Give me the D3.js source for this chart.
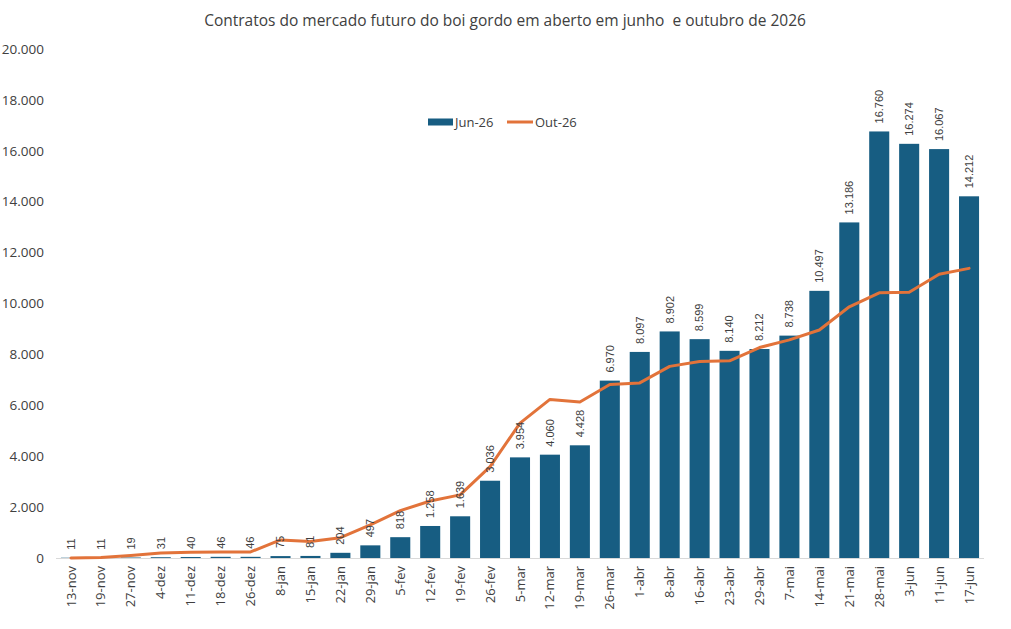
<!DOCTYPE html>
<html><head><meta charset="utf-8">
<script src="https://cdn.jsdelivr.net/npm/d3@7"></script>
<style>
html,body{margin:0;padding:0;background:#fff;}
svg{display:block;}
</style></head>
<body>
<svg id="chart" width="1011" height="629"></svg>
<script>
const categories = ["13-nov","19-nov","27-nov","4-dez","11-dez","18-dez","26-dez","8-jan","15-jan","22-jan","29-jan","5-fev","12-fev","19-fev","26-fev","5-mar","12-mar","19-mar","26-mar","1-abr","8-abr","16-abr","23-abr","29-abr","7-mai","14-mai","21-mai","28-mai","3-jun","11-jun","17-jun"];
const jun26 = [11,11,19,31,40,46,46,75,81,204,497,818,1258,1639,3036,3954,4060,4428,6970,8097,8902,8599,8140,8212,8738,10497,13186,16760,16274,16067,14212];
const out26 = [0,20,100,200,230,240,240,710,650,800,1300,1860,2240,2480,3590,5300,6230,6130,6820,6880,7530,7720,7750,8270,8570,8960,9870,10420,10440,11150,11380];
const yTicks = [0,2000,4000,6000,8000,10000,12000,14000,16000,18000,20000];
const seriesNames = ["Jun-26","Out-26"];
const title = "Contratos do mercado futuro do boi gordo em aberto em junho  e outubro de 2026";

const barColor = "#175d82", lineColor = "#e2733a", textColor = "#404040";
const svg = d3.select("#chart");
const x = d3.scaleBand().domain(categories).range([56,984]).paddingInner(0.33).paddingOuter(0.165);
const y = d3.scaleLinear().domain([0,20000]).range([558,49]);
const fmt = v => d3.format(",")(v).replace(/,/g,".");

// title
svg.append("text").attr("x",505).attr("y",26).attr("text-anchor","middle")
  .attr("font-family","'Open Sans', sans-serif").attr("font-size",15.5).attr("fill",textColor)
  .style("white-space","pre").text(title);

// y axis labels
svg.append("g").selectAll("text").data(yTicks).join("text")
  .attr("x",44).attr("y",d=>y(d)).attr("dy","0.35em").attr("text-anchor","end")
  .attr("font-family","'Open Sans', sans-serif").attr("font-size",13.5).attr("fill",textColor)
  .text(d=>fmt(d));

// bars
svg.append("g").selectAll("rect").data(jun26).join("rect")
  .attr("x",(d,i)=>x(categories[i])).attr("width",x.bandwidth())
  .attr("y",d=>y(d)).attr("height",d=>y(0)-y(d)).attr("fill",barColor);

// x axis line
svg.append("line").attr("x1",56).attr("x2",984).attr("y1",y(0)+0.5).attr("y2",y(0)+0.5)
  .attr("stroke","#d9d9d9").attr("stroke-width",1);

// x labels
svg.append("g").selectAll("text").data(categories).join("text")
  .attr("transform",d=>`translate(${x(d)+x.bandwidth()/2},566) rotate(-90)`)
  .attr("text-anchor","end").attr("dy","0.35em")
  .attr("font-family","'Open Sans', sans-serif").attr("font-size",13).attr("fill",textColor)
  .text(d=>d);

// line
const line = d3.line().x((d,i)=>x(categories[i])+x.bandwidth()/2).y(d=>y(d));
svg.append("path").datum(out26).attr("d",line).attr("fill","none")
  .attr("stroke",lineColor).attr("stroke-width",3).attr("stroke-linejoin","round").attr("stroke-linecap","round");

// bar value labels
svg.append("g").selectAll("text").data(jun26).join("text")
  .attr("transform",(d,i)=>`translate(${x(categories[i])+x.bandwidth()/2},${y(d)-8}) rotate(-90)`)
  .attr("text-anchor","start").attr("dy","0.35em")
  .attr("font-family","'Liberation Sans', Arial, sans-serif").attr("font-size",11).attr("fill",textColor)
  .text(d=>fmt(d));

// legend
const lg = svg.append("g");
lg.append("rect").attr("x",428).attr("y",118.5).attr("width",25).attr("height",7).attr("fill",barColor);
lg.append("text").attr("x",455).attr("y",122).attr("dy","0.35em")
  .attr("font-family","'Open Sans', sans-serif").attr("font-size",13).attr("fill",textColor).text(seriesNames[0]);
lg.append("line").attr("x1",507).attr("x2",533).attr("y1",122).attr("y2",122)
  .attr("stroke",lineColor).attr("stroke-width",3);
lg.append("text").attr("x",535).attr("y",122).attr("dy","0.35em")
  .attr("font-family","'Open Sans', sans-serif").attr("font-size",13).attr("fill",textColor).text(seriesNames[1]);
</script>
</body></html>
